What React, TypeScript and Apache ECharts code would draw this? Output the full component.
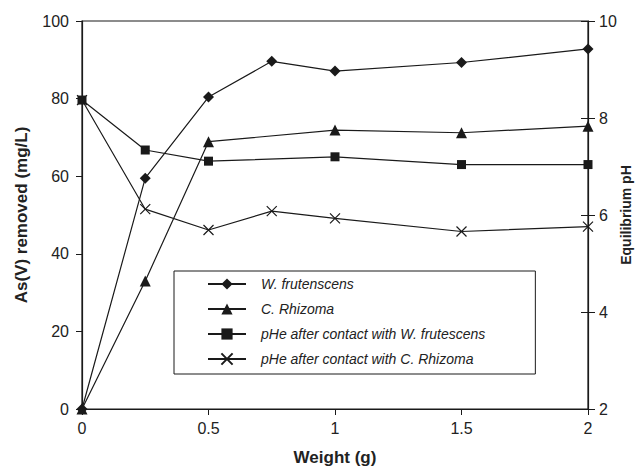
import React, { useEffect, useRef } from "react";
import * as echarts from "echarts";

const weights = [0, 0.25, 0.5, 0.75, 1, 1.5, 2];
const wFrutenscens = [0, 59.5, 80.4, 89.6, 87.1, 89.3, 92.8];
const rhizomaWeights = [0, 0.25, 0.5, 1, 1.5, 2];
const cRhizoma = [0, 33.0, 68.9, 71.9, 71.2, 72.9];
const phWWeights = [0, 0.25, 0.5, 1, 1.5, 2];
const phW = [8.37, 7.34, 7.11, 7.2, 7.04, 7.04];
const phCWeights = [0, 0.25, 0.5, 0.75, 1, 1.5, 2];
const phC = [8.37, 6.12, 5.69, 6.08, 5.93, 5.66, 5.76];

const seriesNames = [
  "W. frutenscens",
  "C. Rhizoma",
  "pHe after contact with W. frutescens",
  "pHe after contact with C. Rhizoma",
];

const FONT = "Liberation Sans, Arial, sans-serif";
const INK = "#1a1a1a";

const pairs = (xs: number[], ys: number[]) => xs.map((x, i) => [x, ys[i]]);

export default function App() {
  const ref = useRef<HTMLDivElement>(null);
  useEffect(() => {
    if (!ref.current) return;
    const chart = echarts.init(ref.current, null, { renderer: "svg" });
    const lineStyle = { color: INK, width: 1.2 };
    chart.setOption({
      animation: false,
      backgroundColor: "#fff",
      grid: {
        left: 82,
        right: 50,
        top: 21,
        bottom: 58,
        containLabel: false,
        outerBoundsMode: "none",
        show: true,
        borderColor: INK,
        borderWidth: 1.2,
        backgroundColor: "transparent",
      },
      legend: {
        orient: "vertical",
        left: 174,
        top: 271,
        data: seriesNames,
        itemWidth: 38,
        itemHeight: 14,
        itemGap: 11,
        padding: [6, 50, 8, 33],
        borderColor: INK,
        borderWidth: 1,
        backgroundColor: "#fff",
        borderRadius: 0,
        textStyle: {
          fontFamily: FONT,
          fontStyle: "italic",
          fontSize: 14,
          color: "#222",
          padding: [0, 0, 0, 10],
        },
      },
      xAxis: {
        type: "value",
        min: 0,
        max: 2,
        interval: 0.5,
        name: "Weight (g)",
        nameLocation: "middle",
        nameGap: 40,
        nameMoveOverlap: false,
        nameTextStyle: { fontFamily: FONT, fontWeight: "bold", fontSize: 17, color: "#222" },
        axisLine: { show: true, lineStyle: { color: INK, width: 1.2 } },
        axisTick: { show: true, inside: false, length: 6, lineStyle: { color: INK } },
        axisLabel: { fontFamily: FONT, fontSize: 16, color: "#222", margin: 11 },
        splitLine: { show: false },
      },
      yAxis: [
        {
          type: "value",
          min: 0,
          max: 100,
          interval: 20,
          position: "left",
          name: "As(V) removed (mg/L)",
          nameLocation: "middle",
          nameRotate: 90,
          nameGap: 52,
          nameMoveOverlap: false,
          nameTextStyle: { fontFamily: FONT, fontWeight: "bold", fontSize: 17, color: "#222" },
          axisLine: { show: true, lineStyle: { color: INK, width: 1.2 } },
          axisTick: { show: true, inside: false, length: 6, lineStyle: { color: INK } },
          axisLabel: { fontFamily: FONT, fontSize: 16, color: "#222", margin: 13 },
          splitLine: { show: false },
        },
        {
          type: "value",
          min: 2,
          max: 10,
          interval: 2,
          position: "right",
          name: "Equilibrium pH",
          nameLocation: "middle",
          nameRotate: 90,
          nameGap: 31,
          nameMoveOverlap: false,
          nameTextStyle: { fontFamily: FONT, fontWeight: "bold", fontSize: 14, color: "#222" },
          axisLine: { show: true, lineStyle: { color: INK, width: 1.2 } },
          axisTick: { show: true, inside: false, length: 7, lineStyle: { color: INK } },
          axisLabel: { fontFamily: FONT, fontSize: 16, color: "#222", margin: 11 },
          splitLine: { show: false },
        },
        {
          type: "value",
          min: 2,
          max: 10,
          interval: 2,
          position: "right",
          axisLine: { show: false },
          axisTick: { show: true, inside: true, length: 7, lineStyle: { color: INK } },
          axisLabel: { show: false },
          splitLine: { show: false },
        },
      ],
      series: [
        {
          name: seriesNames[0],
          type: "line",
          yAxisIndex: 0,
          data: pairs(weights, wFrutenscens),
          symbol: "diamond",
          symbolSize: 11,
          lineStyle,
          itemStyle: { color: INK },
        },
        {
          name: seriesNames[1],
          type: "line",
          yAxisIndex: 0,
          data: pairs(rhizomaWeights, cRhizoma),
          symbol: "triangle",
          symbolSize: 11,
          lineStyle,
          itemStyle: { color: INK },
        },
        {
          name: seriesNames[2],
          type: "line",
          yAxisIndex: 1,
          data: pairs(phWWeights, phW),
          symbol: "rect",
          symbolSize: 9,
          lineStyle,
          itemStyle: { color: INK },
        },
        {
          name: seriesNames[3],
          type: "line",
          yAxisIndex: 1,
          data: pairs(phCWeights, phC),
          symbol: "path://M0,0L10,10M10,0L0,10",
          symbolSize: 10,
          lineStyle,
          itemStyle: { color: "transparent", borderColor: INK, borderWidth: 1.2 },
        },
      ],
    });
    return () => chart.dispose();
  }, []);
  return (
    <div
      ref={ref}
      style={{ position: "absolute", left: 0, top: 0, width: 638, height: 467 }}
    />
  );
}
